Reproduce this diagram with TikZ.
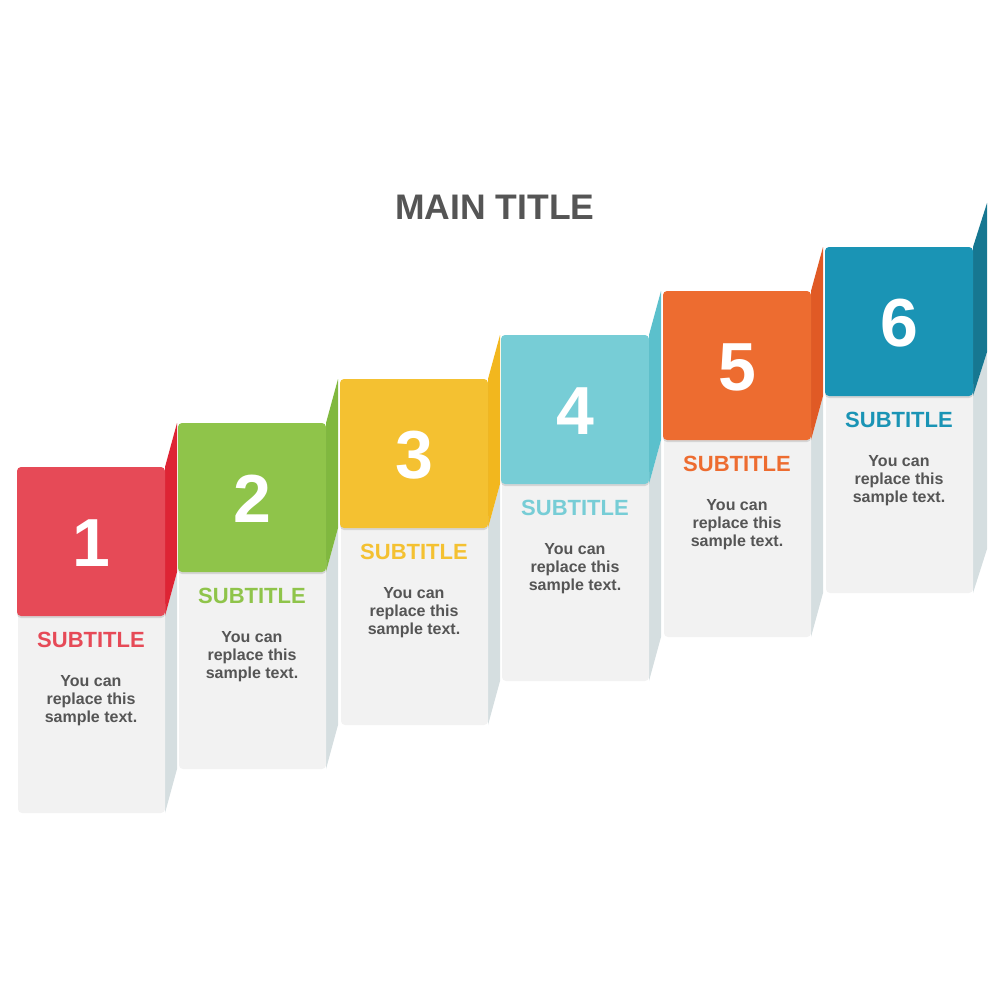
\documentclass[tikz,border=0pt]{standalone}
\usepackage{xcolor}
\usepackage{fontspec}
\setmainfont{Liberation Sans}
\usepackage{tikz}
\usetikzlibrary{shadows}

\definecolor{redA}{HTML}{E64A57}
\definecolor{redB}{HTML}{DE2434}
\definecolor{greenA}{HTML}{8FC44A}
\definecolor{greenB}{HTML}{80B83F}
\definecolor{yellowA}{HTML}{F4C131}
\definecolor{yellowB}{HTML}{F2B71E}
\definecolor{cyanA}{HTML}{77CDD6}
\definecolor{cyanB}{HTML}{5BC0CC}
\definecolor{orangeA}{HTML}{ED6C30}
\definecolor{orangeB}{HTML}{E05A25}
\definecolor{tealA}{HTML}{1A94B5}
\definecolor{tealB}{HTML}{167791}
\definecolor{panelgray}{HTML}{F2F2F2}
\definecolor{sidegray}{HTML}{D5DEE0}
\definecolor{titlegray}{HTML}{555555}

\tikzstyle{square} = [rounded corners=4pt, drop shadow={opacity=0.25, shadow xshift=0pt, shadow yshift=-2pt}]
\tikzstyle{panel} = [fill=panelgray, rounded corners=4pt]
\tikzstyle{numtext} = [text=white, font=\fontsize{68}{68}\selectfont\bfseries]
\tikzstyle{subtext} = [font=\fontsize{22}{24}\selectfont\bfseries]
\tikzstyle{bodytext} = [text=titlegray, align=center, font=\fontsize{16}{18}\selectfont\bfseries]

\begin{document}
\begin{tikzpicture}[x=1pt,y=-1pt]
\useasboundingbox (0,0) rectangle (1000,1000);

% Title
\node (title) at (495,207) {\fontsize{35.5}{40}\selectfont\bfseries\color{titlegray}MAIN TITLE};

% Step 1
\fill[sidegray] (165,616) -- (177,572) -- (177,769) -- (165,813) -- cycle;
\fill[redB] (165,467) -- (177,423) -- (177,572) -- (165,616) -- cycle;
\fill[panel] (18,600) rectangle (165,813);
\fill[square, fill=redA] (17,467) rectangle (165,616);
\node[numtext] (num1) at (91,543) {1};
\node[subtext, text=redA] (sub1) at (91,640) {SUBTITLE};
\node[bodytext] (txt1) at (91,701) {You can\\replace this\\sample text.};

% Step 2
\fill[sidegray] (326,572) -- (338,528) -- (338,725) -- (326,769) -- cycle;
\fill[greenB] (326,423) -- (338,379) -- (338,528) -- (326,572) -- cycle;
\fill[panel] (179,556) rectangle (326,769);
\fill[square, fill=greenA] (178,423) rectangle (326,572);
\node[numtext] (num2) at (252,499) {2};
\node[subtext, text=greenA] (sub2) at (252,596) {SUBTITLE};
\node[bodytext] (txt2) at (252,657) {You can\\replace this\\sample text.};

% Step 3
\fill[sidegray] (488,528) -- (500,484) -- (500,681) -- (488,725) -- cycle;
\fill[yellowB] (488,379) -- (500,335) -- (500,484) -- (488,528) -- cycle;
\fill[panel] (341,512) rectangle (488,725);
\fill[square, fill=yellowA] (340,379) rectangle (488,528);
\node[numtext] (num3) at (414,455) {3};
\node[subtext, text=yellowA] (sub3) at (414,552) {SUBTITLE};
\node[bodytext] (txt3) at (414,613) {You can\\replace this\\sample text.};

% Step 4
\fill[sidegray] (649,484) -- (661,440) -- (661,637) -- (649,681) -- cycle;
\fill[cyanB] (649,335) -- (661,291) -- (661,440) -- (649,484) -- cycle;
\fill[panel] (502,468) rectangle (649,681);
\fill[square, fill=cyanA] (501,335) rectangle (649,484);
\node[numtext] (num4) at (575,411) {4};
\node[subtext, text=cyanA] (sub4) at (575,508) {SUBTITLE};
\node[bodytext] (txt4) at (575,569) {You can\\replace this\\sample text.};

% Step 5
\fill[sidegray] (811,440) -- (823,396) -- (823,593) -- (811,637) -- cycle;
\fill[orangeB] (811,291) -- (823,247) -- (823,396) -- (811,440) -- cycle;
\fill[panel] (664,424) rectangle (811,637);
\fill[square, fill=orangeA] (663,291) rectangle (811,440);
\node[numtext] (num5) at (737,367) {5};
\node[subtext, text=orangeA] (sub5) at (737,464) {SUBTITLE};
\node[bodytext] (txt5) at (737,525) {You can\\replace this\\sample text.};

% Step 6
\fill[sidegray] (973,396) -- (987,352) -- (987,549) -- (973,593) -- cycle;
\fill[tealB] (973,247) -- (987,203) -- (987,352) -- (973,396) -- cycle;
\fill[panel] (826,380) rectangle (973,593);
\fill[square, fill=tealA] (825,247) rectangle (973,396);
\node[numtext] (num6) at (899,323) {6};
\node[subtext, text=tealA] (sub6) at (899,420) {SUBTITLE};
\node[bodytext] (txt6) at (899,481) {You can\\replace this\\sample text.};
\end{tikzpicture}
\end{document}
